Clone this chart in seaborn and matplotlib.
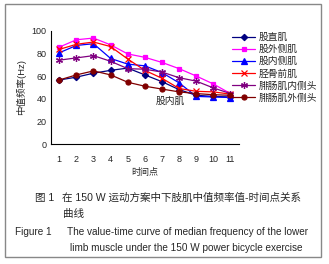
import pandas as pd
import seaborn as sns
import matplotlib
matplotlib.use('Agg')
import matplotlib.pyplot as plt
from matplotlib.patches import Rectangle

#
# data
#
time_points = [1, 2, 3, 4, 5, 6, 7, 8, 9, 10, 11]
muscles = ['股直肌', '股外侧肌', '股内侧肌', '胫骨前肌', '腓肠肌内侧头', '腓肠肌外侧头']
rectus_femoris = [56.5, 59, 62.5, 65, 67, 61, 55, 48, 43, 42, 41.5]
vastus_lateralis = [85.5, 92, 93.5, 87.5, 79.5, 76.5, 72, 66.5, 60, 53, 44.5]
vastus_medialis = [80.5, 87, 88.5, 75.5, 70.5, 69, 63, 54, 42, 41.5, 41]
tibialis_anterior = [83.5, 88, 90, 86, 75, 65, 58, 49, 46.5, 46, 44]
gastro_medial = [74, 76, 78, 73, 66.5, 66, 63.5, 58.5, 55.5, 49.5, 44.5]
gastro_lateral = [56.5, 61, 64.5, 61, 54.5, 51, 48.5, 46, 44.5, 43.5, 43]

colors = ['#000080', '#ff00ff', '#0000ff', '#ff0000', '#800080', '#800000']
markers = ['D', 's', '^', 'x', (6, 2, 0), 'o']
sizes = [3.2, 3.4, 3.8, 4.2, 5.0, 3.6]

series = [rectus_femoris, vastus_lateralis, vastus_medialis,
          tibialis_anterior, gastro_medial, gastro_lateral]

df = pd.concat([
    pd.DataFrame({'time': time_points, 'mf': vals, 'muscle': name})
    for name, vals in zip(muscles, series)
])

#
# plot
#
sns.set_style('white')
plt.rcParams['font.family'] = ['Liberation Sans', 'Noto Sans CJK SC']
plt.rcParams['axes.unicode_minus'] = False

W, H = 329, 264
fig = plt.figure(figsize=(W / 100, H / 100), dpi=100)
ax = fig.add_axes([50.7 / W, 1 - 144 / H, (239 - 50.7) / W, (144 - 30.7) / H])

for name, c, m, s in zip(muscles, colors, markers, sizes):
    sub = df[df['muscle'] == name]
    sns.lineplot(data=sub, x='time', y='mf', ax=ax, color=c, marker=m,
                 markersize=s, markeredgecolor=c, markeredgewidth=0.9,
                 linewidth=0.9, label=name)

ax.set_xlim(0.5, 11.5)
ax.set_ylim(0, 100)
ax.set_xticks(time_points)
ax.set_xticks([t + 0.5 for t in [0] + time_points], minor=True)
ax.set_yticks(range(0, 101, 20))
ax.tick_params(axis='x', which='major', length=0, labelsize=6.5, pad=8)
ax.tick_params(axis='x', which='minor', length=3, direction='in', width=0.8)
ax.tick_params(axis='y', length=3, direction='in', width=0.8, labelsize=6.5, pad=3)
for side in ['top', 'right']:
    ax.spines[side].set_visible(False)
for side in ['left', 'bottom']:
    ax.spines[side].set_color('black')
    ax.spines[side].set_linewidth(0.8)
ax.set_xlabel('时间点', fontsize=6.5, labelpad=3)
ax.set_ylabel('中值频率(Hz)', fontsize=6.8, labelpad=4)
ax.text(7.5, 38.5, '股内肌', fontsize=7, ha='center', va='center')

handles, labels = ax.get_legend_handles_labels()
ax.legend(handles, labels, loc='upper left', bbox_to_anchor=(232 / W, 1 - 32 / H),
          bbox_transform=fig.transFigure, frameon=False, fontsize=7,
          handlelength=2.4, handletextpad=0.3, labelspacing=0.22,
          borderpad=0, borderaxespad=0)

# caption
cn = dict(fontsize=7.6, va='center', ha='left')
en = dict(fontsize=7.2, va='center', ha='left')
fig.text(35 / W, 1 - 198 / H, '图 1', **cn)
fig.text(62 / W, 1 - 198 / H, '在 150 W 运动方案中下肢肌中值频率值-时间点关系', **cn)
fig.text(63 / W, 1 - 214 / H, '曲线', **cn)
fig.text(15 / W, 1 - 232 / H, 'Figure 1', **en)
fig.text(67 / W, 1 - 232 / H, 'The value-time curve of median frequency of the lower', **en)
fig.text(70 / W, 1 - 248 / H, 'limb muscle under the 150 W power bicycle exercise', **en)

fig.patches.append(Rectangle((5 / W, 1 - 257 / H), 316 / W, 253 / H,
                             transform=fig.transFigure, fill=False,
                             edgecolor='#888888', linewidth=1))

plt.savefig('out.png', dpi=100)
